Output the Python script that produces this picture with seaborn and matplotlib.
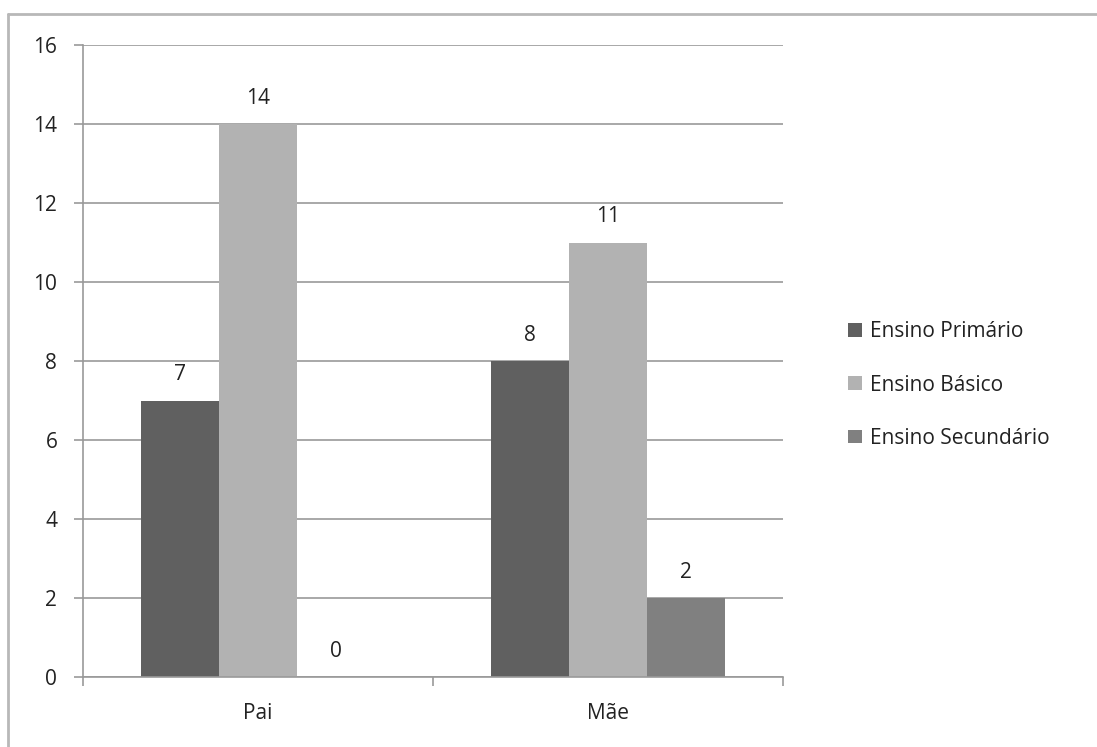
import seaborn as sns
import pandas as pd
import matplotlib.pyplot as plt
from matplotlib.lines import Line2D

grupos = ["Pai", "Mãe"]
niveis = ["Ensino Primário", "Ensino Básico", "Ensino Secundário"]
primario = [7, 8]
basico = [14, 11]
secundario = [0, 2]

rows = []
for i, g in enumerate(grupos):
    rows.append((g, niveis[0], primario[i]))
    rows.append((g, niveis[1], basico[i]))
    rows.append((g, niveis[2], secundario[i]))
df = pd.DataFrame(rows, columns=["grupo", "nivel", "valor"])

sns.set_style("white")
plt.rcParams["font.family"] = ["Open Sans", "DejaVu Sans"]

fig = plt.figure(figsize=(10.97, 7.47), dpi=100)
ax = fig.add_axes([0.0757, 0.0937, 0.638, 0.846])

cores = ["#606060", "#b2b2b2", "#808080"]
sns.barplot(data=df, x="grupo", y="valor", hue="nivel", palette=cores,
            width=0.667, saturation=1, ax=ax, edgecolor="none")

for c in ax.containers:
    ax.bar_label(c, padding=11, fontsize=15, color="#222222")

ax.set_ylim(0, 16)
ax.set_xlim(-0.5, 1.5)
ax.set_yticks(range(0, 17, 2))
ax.yaxis.grid(True, color="#999999", linewidth=1.2)
ax.set_axisbelow(True)
ax.set_xlabel("")
ax.set_ylabel("")
for s in ["top", "right"]:
    ax.spines[s].set_visible(False)
for s in ["left", "bottom"]:
    ax.spines[s].set_color("#999999")
    ax.spines[s].set_linewidth(1.2)

ax.tick_params(axis="y", length=6.5, color="#999999", width=1.2, labelsize=15,
               left=True, pad=12, labelcolor="#222222")
ax.tick_params(axis="x", which="major", length=0, labelsize=15, pad=19,
               labelcolor="#222222")
ax.set_xticks([-0.5, 0.5, 1.5], minor=True)
ax.tick_params(axis="x", which="minor", length=6.5, color="#999999", width=1.2,
               bottom=True)

leg = ax.legend(loc="center left", bbox_to_anchor=(1.093, 0.462), frameon=False,
                fontsize=15, handlelength=0.65, handleheight=0.65,
                labelspacing=1.55, handletextpad=0.4, borderpad=0,
                borderaxespad=0)
for t in leg.get_texts():
    t.set_color("#222222")

# moldura do grafico (so topo e esquerda visiveis)
fig.add_artist(Line2D([0.0073, 1.0], [0.981, 0.981], transform=fig.transFigure,
                      color="#b8b8b8", linewidth=2))
fig.add_artist(Line2D([0.0073, 0.0073], [0.0, 0.981], transform=fig.transFigure,
                      color="#b8b8b8", linewidth=2))

fig.savefig("out.png", dpi=100)
